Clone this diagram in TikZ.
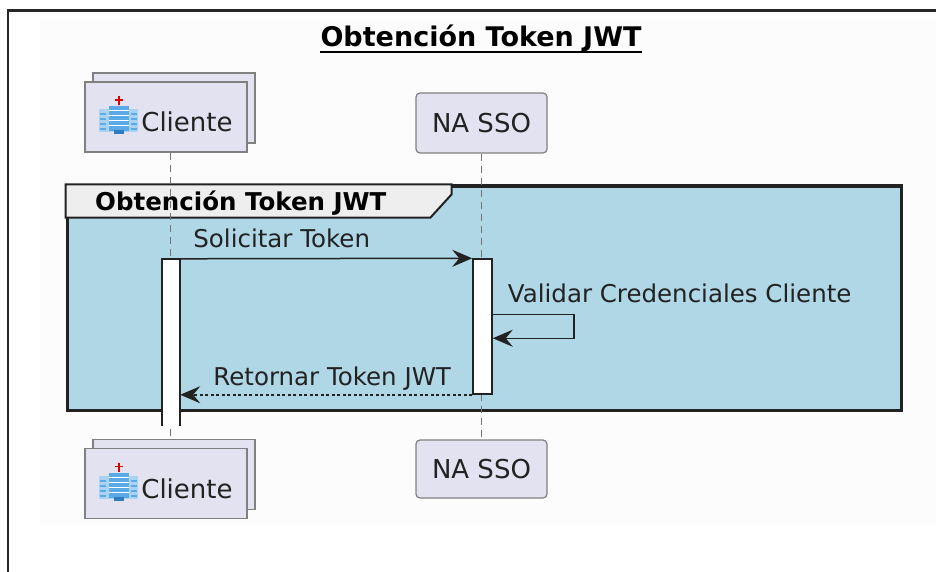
\documentclass[tikz,border=0pt]{standalone}
\usepackage{fontspec}
\setmainfont{DejaVu Sans}
\usetikzlibrary{arrows.meta,shadows,calc}

\definecolor{partfill}{HTML}{E2E2F0}
\definecolor{grpfill}{HTML}{B0D7E6}
\definecolor{tabfill}{HTML}{EEEEEE}
\definecolor{ink}{HTML}{222222}
\definecolor{iconpale}{HTML}{A9D2F3}
\definecolor{iconblue}{HTML}{5AAAE8}
\definecolor{icondark}{HTML}{2F7CC0}

\tikzset{
  part/.style={draw=black!50, line width=1.2pt, fill=partfill, inner sep=0pt,
    font=\fontsize{26}{30}\selectfont, text=ink},
  clibox/.style={part, minimum width=162pt, minimum height=70pt, text height=30pt, text depth=0pt,
    copy shadow={shadow xshift=8pt, shadow yshift=9pt}},
  ssobox/.style={part, rounded corners=4pt, minimum width=131pt},
  lifeline/.style={draw=black!55, line width=1pt, dash pattern=on 7pt off 5pt},
  actbar/.style={fill=white, inner sep=0pt, minimum width=18pt},
  barline/.style={draw=ink, line width=1.5pt},
  msg/.style={draw=ink, line width=1.5pt, -{Stealth[length=20pt, width=17pt, inset=7pt]}},
  reply/.style={msg, dash pattern=on 3pt off 2.5pt},
  msglabel/.style={inner sep=0pt, anchor=base west, text=ink, font=\fontsize{24.5}{28}\selectfont},
  grpbox/.style={draw=ink, line width=3pt, fill=grpfill, inner sep=0pt},
  tab/.style={draw=ink, line width=2pt, fill=tabfill},
  hospital/.pic={
    \fill[iconpale] (-20,-6) rectangle (19,17);
    \fill[iconblue] (-10,-9) rectangle (10,16);
    \foreach \yy in {-4,1,6,11} \draw[white, line width=1pt] (-10,\yy) -- (10,\yy);
    \foreach \yy in {-1,4,9,14} \draw[iconblue, line width=2pt] (-19,\yy) -- (-13,\yy) (12,\yy) -- (18,\yy);
    \fill[icondark] (-5,15) rectangle (5,19);
    \draw[red!85!black, line width=1.6pt] (0.5,-19) -- (0.5,-10) (-3.5,-15) -- (4.5,-15);
  }
}

\begin{document}
\begin{tikzpicture}[x=1pt, y=-1pt]
  \useasboundingbox (0,0) rectangle (936,572);
  \fill[black!1] (40,18) rectangle (936,525);
  \draw[line width=2.4pt, black!85] (8,572) -- (8,10.5) -- (936,10.5);

  % title
  \node[inner sep=0pt, anchor=base, text=black, font=\fontsize{27}{32}\selectfont\bfseries] (title) at (481,47) {Obtención Token JWT};
  \draw[line width=1.8pt] ([yshift=-5pt]title.base west) -- ([yshift=-5pt]title.base east);

  % group
  \node[grpbox, minimum width=834pt, minimum height=224pt] (grp) at (484,298) {};
  \draw[tab] (grp.north west) -- ++(386,0) -- ++(0,10) -- ++(-21,23) -- ($(grp.north west)+(0,33)$) -- cycle;
  \node[msglabel, font=\fontsize{24.5}{28}\selectfont\bfseries, text=black] (grpname) at (95,210) {Obtención Token JWT};

  % participants
  \node[clibox] (clitop) at (166,117) {\hspace*{42pt}Cliente};
  \pic at ($(clitop.center)+(-47.5,-2)$) {hospital};
  \node[ssobox, minimum height=60pt] (ssotop) at (481.5,123) {NA SSO};
  \node[clibox] (clibot) at (166,483.5) {\hspace*{42pt}Cliente};
  \pic at ($(clibot.center)+(-47.5,-2)$) {hospital};
  \node[ssobox, minimum height=58pt] (ssobot) at (481.5,469) {NA SSO};

  % lifelines
  \draw[lifeline] ([xshift=4pt]clitop.south) -- ([xshift=4pt, yshift=8pt]clibot.north);
  \draw[lifeline] (ssotop.south) -- (ssobot.north);

  % activations
  \node[actbar, minimum height=167pt] (clibar) at (171,342.5) {};
  \draw[barline] (clibar.south west) -- (clibar.north west) -- (clibar.north east) -- (clibar.south east);
  \node[actbar, barline, minimum width=19pt, minimum height=135pt] (ssobar) at (482.5,326.5) {};

  % messages
  \draw[msg] (clibar.north east) -- (ssobar.north west);
  \node[msglabel] (solicitar) at ([xshift=13pt, yshift=11pt]clibar.north east) {Solicitar Token};

  \draw[msg] ([yshift=-56pt]ssobar.north east) -- ++(81,0) -- ++(0,24) -- ([yshift=-80pt]ssobar.north east);
  \node[msglabel] (validar) at ([xshift=15pt, yshift=-44pt]ssobar.north east) {Validar Credenciales Cliente};

  \draw[reply] (ssobar.south west) -- (clibar.east |- ssobar.south);
  \node[msglabel] (retornar) at ($(clibar.east |- ssobar.south)+(33,-9)$) {Retornar Token JWT};
\end{tikzpicture}
\end{document}
